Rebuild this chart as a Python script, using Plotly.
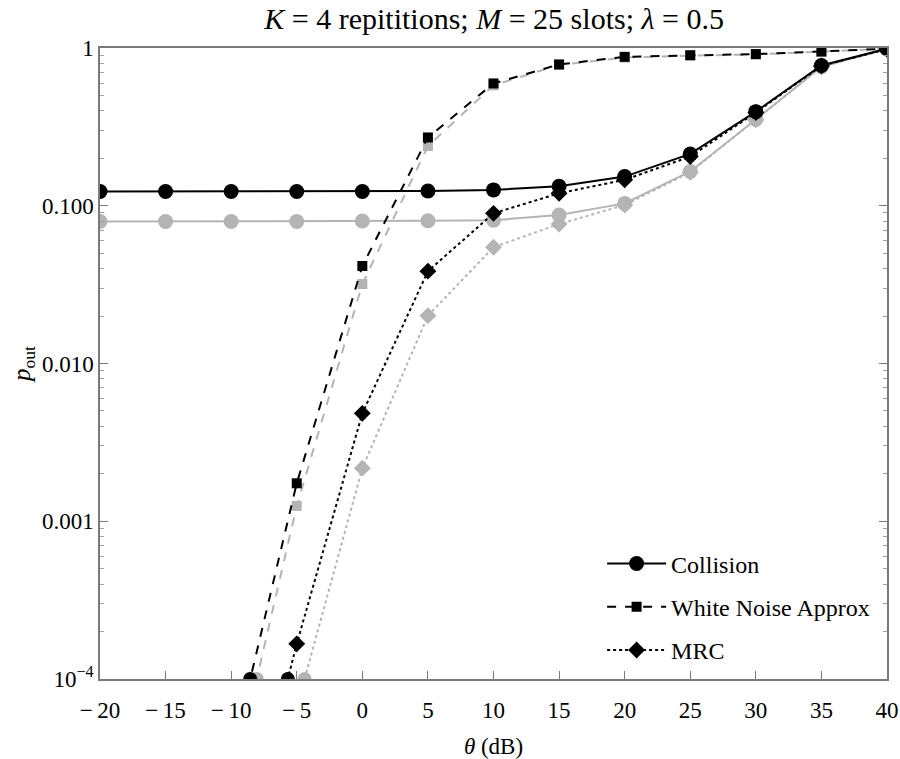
import plotly.graph_objects as go

theta = [-20, -15, -10, -5, 0, 5, 10, 15, 20, 25, 30, 35, 40]

collision_black = [0.123, 0.123, 0.123, 0.123, 0.123, 0.124, 0.126, 0.133, 0.153, 0.213, 0.395, 0.775, 0.99]
collision_gray = [0.0795, 0.0795, 0.0795, 0.0795, 0.0800, 0.0803, 0.081, 0.0873, 0.1035, 0.165, 0.352, 0.76, 0.99]

wn_black = [None, None, 3.1e-5, 0.00174, 0.0415, 0.271, 0.596, 0.787, 0.879, 0.90, 0.915, 0.95, 0.99]
wn_gray = [None, None, 2.0e-5, 0.00125, 0.0319, 0.239, 0.58, 0.78, 0.87, 0.895, 0.91, 0.945, 0.99]

mrc_black = [None, None, 3.9e-6, 1.67e-4, 0.00483, 0.0385, 0.0895, 0.120, 0.146, 0.205, 0.39, 0.77, 0.985]
mrc_gray = [None, None, None, 6.6e-5, 0.00217, 0.0201, 0.0546, 0.0765, 0.101, 0.163, 0.35, 0.76, 0.985]

# where curves leave the bottom of the frame (clipped markers)
cross_black_x = [-8.55, -5.68]
cross_gray_x = [-8.05, -4.40]
y_floor = 1e-4

x_ticks = [-20, -15, -10, -5, 0, 5, 10, 15, 20, 25, 30, 35, 40]
x_ticktext = ["\u2212\u200920", "\u2212\u200915", "\u2212\u200910", "\u2212\u20095", "0", "5", "10", "15", "20", "25", "30", "35", "40"]
y_ticks = [1, 0.1, 0.01, 0.001, 0.0001]
y_ticktext = ["1", "0.100", "0.010", "0.001", "10<sup>\u22124</sup>"]

decades = [1e-4, 1e-3, 1e-2, 1e-1]
minor_mult = [2, 3, 4, 5, 6, 7, 8, 9]
y_minor = [d * m for d in decades for m in minor_mult]

BLACK = "#000000"
GRAY = "#b4b4b4"
FRAME = "#7a7a7a"
FONT = "Liberation Serif"

fig = go.Figure()

def add(y, color, dash, symbol, size, name, show):
    fig.add_trace(go.Scatter(
        x=theta, y=y, mode="lines+markers", name=name,
        line=dict(color=color, width=2, dash=dash),
        marker=dict(color=color, symbol=symbol, size=size),
        showlegend=show, legendgroup=name if show else None,
        connectgaps=False, cliponaxis=True,
    ))

# gray curves underneath
add(collision_gray, GRAY, "solid", "circle", 15, "Collision (gray)", False)
add(wn_gray, GRAY, "dash", "square", 10, "WN (gray)", False)
add(mrc_gray, GRAY, "dot", "diamond", 13, "MRC (gray)", False)

fig.add_trace(go.Scatter(x=cross_gray_x, y=[y_floor] * len(cross_gray_x), mode="markers",
                         marker=dict(color=GRAY, symbol="circle", size=14), showlegend=False,
                         cliponaxis=True))

add(collision_black, BLACK, "solid", "circle", 15, "Collision", True)
add(wn_black, BLACK, "dash", "square", 10, "White Noise Approx", True)
add(mrc_black, BLACK, "dot", "diamond", 13, "MRC", True)

fig.add_trace(go.Scatter(x=cross_black_x, y=[y_floor] * len(cross_black_x), mode="markers",
                         marker=dict(color=BLACK, symbol="circle", size=14), showlegend=False,
                         cliponaxis=True))

# invisible trace to anchor the minor-tick overlay axis
fig.add_trace(go.Scatter(x=[0], y=[0.5], yaxis="y2", mode="markers",
                         marker=dict(opacity=0), showlegend=False, hoverinfo="skip"))

fig.update_layout(
    width=900, height=759,
    margin=dict(l=100, r=13, t=48, b=80),
    paper_bgcolor="white", plot_bgcolor="white",
    font=dict(family=FONT, size=22, color="black"),
    title=dict(
        text="<i>K</i> = 4 repititions; <i>M</i> = 25 slots; <i>\u03bb</i> = 0.5",
        x=0.549, xanchor="center", y=0.976, yanchor="middle",
        font=dict(family=FONT, size=30, color="black"),
    ),
    legend=dict(
        x=0.638, y=0.218, xanchor="left", yanchor="top",
        bgcolor="rgba(0,0,0,0)", font=dict(family=FONT, size=24),
        tracegroupgap=9, traceorder="grouped", itemwidth=59,
    ),
    xaxis=dict(
        range=[-20, 40], tickvals=x_ticks, ticktext=x_ticktext,
        ticks="inside", ticklen=8, tickcolor=FRAME, tickwidth=1,
        showline=True, linecolor=FRAME, linewidth=1.5, mirror=True,
        showgrid=False, zeroline=False, ticklabelstandoff=10, automargin=False,
        tickfont=dict(family=FONT, size=23),
        title=dict(text="<i>\u03b8</i> (dB)", font=dict(family=FONT, size=23), standoff=16),
    ),
    yaxis=dict(
        type="log", range=[-4, 0], tickvals=y_ticks, ticktext=y_ticktext,
        ticks="inside", ticklen=8, tickcolor=FRAME, tickwidth=1,
        showline=True, linecolor=FRAME, linewidth=1.5, mirror="ticks",
        showgrid=False, zeroline=False, automargin=False,
        tickfont=dict(family=FONT, size=23),
        title=dict(text="<i>p</i><sub>out</sub>", font=dict(family=FONT, size=25), standoff=4),
    ),
    yaxis2=dict(
        type="log", range=[-4, 0], overlaying="y", side="left",
        tickmode="array", tickvals=y_minor, showticklabels=False,
        ticks="inside", ticklen=4, tickcolor="#a0a0a0", tickwidth=1,
        showline=False, mirror="ticks", showgrid=False, zeroline=False, automargin=False,
    ),
)

fig.write_html("out.html")
